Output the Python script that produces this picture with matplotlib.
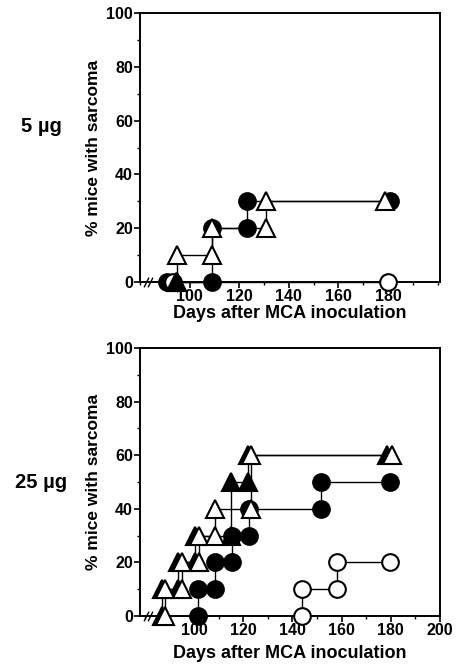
import matplotlib
matplotlib.use('Agg')
import matplotlib.pyplot as plt
from matplotlib.ticker import MultipleLocator

plt.rcParams['font.family'] = ['Liberation Sans', 'DejaVu Sans']
plt.rcParams['font.weight'] = 'bold'

# 5 ug panel
d5_fc_x = [91, 109, 109, 123, 123, 181]
d5_fc_y = [0, 0, 20, 20, 30, 30]
d5_ot_x = [95, 95, 109, 109, 131, 131, 179]
d5_ot_y = [0, 10, 10, 20, 20, 30, 30]
d5_oc_x = [93.5, 180]
d5_oc_y = [0, 0]
d5_ft_x = [94.5]
d5_ft_y = [0]

# 25 ug panel
d25_ft_x = [87, 87, 93.5, 93.5, 100.5, 100.5, 115, 115, 122, 122, 178.5]
d25_ft_y = [0, 10, 10, 20, 20, 30, 30, 50, 50, 60, 60]
d25_ot_x = [88, 88, 95, 95, 102, 102, 108.5, 108.5, 123, 123, 180.5]
d25_ot_y = [0, 10, 10, 20, 20, 30, 30, 40, 40, 60, 60]
d25_fc_x = [101.7, 101.7, 108.7, 108.7, 115.5, 115.5, 122.5, 122.5, 151.8, 151.8, 179.6]
d25_fc_y = [0, 10, 10, 20, 20, 30, 30, 40, 40, 50, 50]
d25_oc_x = [143.7, 143.7, 158, 158, 179.6]
d25_oc_y = [0, 10, 10, 20, 20]

W, H = 461, 666
fig = plt.figure(figsize=(W / 100, H / 100), dpi=100)


def draw_panel(ax, series, xlim, xticks, dose_label, dose_y, xpad):
    for x, y, marker, face, z in series:
        ax.plot(x, y, color='black', lw=1.0, zorder=2, clip_on=False)
    for x, y, marker, face, z in series:
        ms = 12.5 if marker == '^' else 12
        ax.plot(x, y, ls='none', marker=marker, ms=ms, mfc=face, mec='black',
                mew=1.5, zorder=z, clip_on=False)
    ax.set_xlim(*xlim)
    ax.set_ylim(0, 100)
    ax.set_xticks(xticks)
    ax.xaxis.set_minor_locator(MultipleLocator(10))
    ax.yaxis.set_major_locator(MultipleLocator(20))
    ax.yaxis.set_minor_locator(MultipleLocator(10))
    ax.tick_params(axis='both', which='major', direction='out', length=4, width=1.2,
                   labelsize=11.5, pad=1)
    ax.tick_params(axis='both', which='minor', direction='out', length=2, width=1)
    for lab in ax.get_xticklabels() + ax.get_yticklabels():
        lab.set_fontweight('bold')
    for s in ax.spines.values():
        s.set_linewidth(1.4)
    ax.set_xlabel('Days after MCA inoculation', fontsize=13, fontweight='bold', labelpad=xpad)
    ax.set_ylabel('% mice with sarcoma', fontsize=12.5, fontweight='bold', labelpad=4)
    # axis break marks
    brk = [(-0.5, -1), (0.5, 1)]
    for bx in (xlim[0] + 2.6, xlim[0] + 4.0):
        ax.plot([bx], [0], marker=brk, ms=7, mec='black', mew=1.0, ls='none',
                zorder=6, clip_on=False)
    fig.text(0.09, dose_y, dose_label, fontsize=14.5, fontweight='bold',
             ha='center', va='center')


ax1 = fig.add_axes([140 / W, 1 - 282 / H, 300 / W, 269 / H])
draw_panel(ax1, [
    (d5_fc_x, d5_fc_y, 'o', 'black', 3),
    (d5_oc_x, d5_oc_y, 'o', 'white', 3),
    (d5_ot_x, d5_ot_y, '^', 'white', 4),
    (d5_ft_x, d5_ft_y, '^', 'black', 5),
], (80, 201), [100, 120, 140, 160, 180], '5 \u00b5g', 1 - 126 / H, 1)

ax2 = fig.add_axes([140 / W, 1 - 616 / H, 300 / W, 268 / H])
draw_panel(ax2, [
    (d25_ft_x, d25_ft_y, '^', 'black', 3),
    (d25_fc_x, d25_fc_y, 'o', 'black', 3),
    (d25_oc_x, d25_oc_y, 'o', 'white', 3),
    (d25_ot_x, d25_ot_y, '^', 'white', 4),
], (78, 200), [100, 120, 140, 160, 180, 200], '25 \u00b5g', 1 - 482 / H, 5)

fig.savefig('out.png', dpi=100)
